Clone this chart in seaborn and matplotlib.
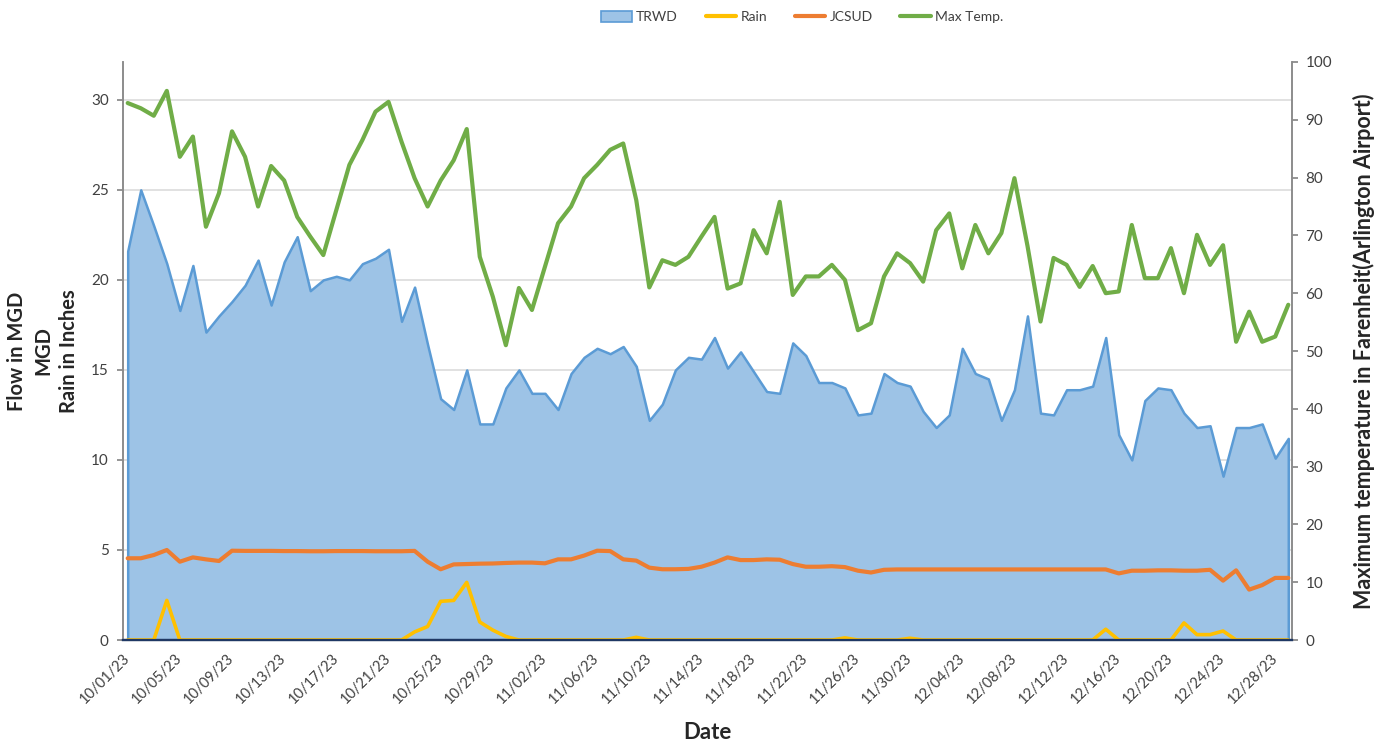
import numpy as np
import pandas as pd
import matplotlib
matplotlib.use("Agg")
import matplotlib.pyplot as plt
from matplotlib.patches import Patch
from matplotlib.lines import Line2D
import seaborn as sns

sns.set_theme(style="white")
plt.rcParams['font.family'] = ['Lato', 'DejaVu Sans']

# ---- data (10/01/23 .. 12/29/23, daily) ----
dates = pd.date_range("2023-10-01", periods=90, freq="D")

trwd = [21.6, 25.0, 23.0, 20.9, 18.3, 20.8, 17.1, 18.0, 18.8, 19.7,
        21.1, 18.6, 21.0, 22.4, 19.4, 20.0, 20.2, 20.0, 20.9, 21.2,
        21.7, 17.7, 19.6, 16.4, 13.4, 12.8, 15.0, 12.0, 12.0, 14.0,
        15.0, 13.7, 13.7, 12.8, 14.8, 15.7, 16.2, 15.9, 16.3, 15.2,
        12.2, 13.1, 15.0, 15.7, 15.6, 16.8, 15.1, 16.0, 14.9, 13.8,
        13.7, 16.5, 15.8, 14.3, 14.3, 14.0, 12.5, 12.6, 14.8, 14.3,
        14.1, 12.7, 11.8, 12.5, 16.2, 14.8, 14.5, 12.2, 13.9, 18.0,
        12.6, 12.5, 13.9, 13.9, 14.1, 16.8, 11.4, 10.0, 13.3, 14.0,
        13.9, 12.6, 11.8, 11.9, 9.1, 11.8, 11.8, 12.0, 10.1, 11.2]

jcsud = [4.54, 4.54, 4.72, 5.00, 4.35, 4.59, 4.48, 4.39, 4.96, 4.95,
         4.95, 4.95, 4.94, 4.94, 4.93, 4.93, 4.94, 4.94, 4.94, 4.93,
         4.93, 4.93, 4.95, 4.35, 3.93, 4.20, 4.22, 4.24, 4.25, 4.28,
         4.30, 4.30, 4.26, 4.48, 4.48, 4.69, 4.96, 4.94, 4.48, 4.41,
         4.02, 3.93, 3.93, 3.95, 4.07, 4.30, 4.59, 4.44, 4.44, 4.48,
         4.46, 4.22, 4.07, 4.07, 4.10, 4.05, 3.85, 3.75, 3.90, 3.92,
         3.92, 3.92, 3.92, 3.92, 3.92, 3.92, 3.92, 3.92, 3.92, 3.92,
         3.92, 3.92, 3.92, 3.92, 3.92, 3.92, 3.70, 3.85, 3.85, 3.87,
         3.87, 3.85, 3.85, 3.90, 3.30, 3.87, 2.80, 3.05, 3.45, 3.45]

rain = [0.0, 0.0, 0.0, 2.2, 0.0, 0.0, 0.0, 0.0, 0.0, 0.0,
        0.0, 0.0, 0.0, 0.0, 0.0, 0.0, 0.0, 0.0, 0.0, 0.0,
        0.0, 0.0, 0.45, 0.75, 2.15, 2.2, 3.2, 1.0, 0.55, 0.2,
        0.0, 0.0, 0.0, 0.0, 0.0, 0.0, 0.0, 0.0, 0.0, 0.15,
        0.0, 0.0, 0.0, 0.0, 0.0, 0.0, 0.0, 0.0, 0.0, 0.0,
        0.0, 0.0, 0.0, 0.0, 0.0, 0.12, 0.0, 0.0, 0.0, 0.0,
        0.1, 0.0, 0.0, 0.0, 0.0, 0.0, 0.0, 0.0, 0.0, 0.0,
        0.0, 0.0, 0.0, 0.0, 0.0, 0.6, 0.0, 0.0, 0.0, 0.0,
        0.0, 0.95, 0.3, 0.3, 0.5, 0.0, 0.0, 0.0, 0.0, 0.0]

max_temp = [92.9, 92.0, 90.7, 95.0, 83.6, 87.1, 71.5, 77.3, 88.0, 83.6,
            75.0, 82.0, 79.5, 73.2, 69.8, 66.6, 74.4, 82.2, 86.5, 91.4,
            93.1, 86.2, 79.9, 75.0, 79.5, 83.0, 88.4, 66.3, 59.4, 51.0,
            60.9, 57.1, 64.6, 72.1, 75.0, 79.9, 82.2, 84.8, 85.9, 76.1,
            61.0, 65.7, 64.9, 66.3, 69.8, 73.2, 60.8, 61.7, 70.9, 66.9,
            75.8, 59.7, 62.9, 62.9, 64.9, 62.3, 53.6, 54.8, 62.9, 66.9,
            65.2, 62.0, 70.9, 73.8, 64.3, 71.8, 66.9, 70.4, 79.9, 68.2,
            55.1, 66.1, 64.9, 61.1, 64.7, 60.0, 60.3, 71.8, 62.6, 62.6,
            67.8, 60.0, 70.1, 64.9, 68.3, 51.6, 56.8, 51.6, 52.5, 58.0]

left_ticks = [0, 5, 10, 15, 20, 25, 30]
right_ticks = [0, 10, 20, 30, 40, 50, 60, 70, 80, 90, 100]

df = pd.DataFrame({"day": np.arange(len(dates)), "TRWD": trwd, "JCSUD": jcsud,
                   "Rain": rain, "Max Temp.": max_temp})

C_FILL, C_EDGE = "#9DC3E6", "#5B9BD5"
C_RAIN, C_JCSUD, C_TEMP = "#FFC000", "#ED7D31", "#70AD47"
TXT = "#404040"

fig = plt.figure(figsize=(13.88, 7.45), dpi=100)
ax = fig.add_axes([0.0884, 0.1409, 0.8422, 0.7759])
ax2 = ax.twinx()

# TRWD area + edge
ax.fill_between(df["day"], 0, df["TRWD"], facecolor=C_FILL, edgecolor=C_EDGE,
                linewidth=1.8, zorder=1)
sns.lineplot(data=df, x="day", y="JCSUD", ax=ax, color=C_JCSUD, linewidth=3.0,
             zorder=3)
sns.lineplot(data=df, x="day", y="Rain", ax=ax, color=C_RAIN, linewidth=2.6,
             zorder=4)
sns.lineplot(data=df, x="day", y="Max Temp.", ax=ax2, color=C_TEMP, linewidth=3.0)
for l in ax.lines + ax2.lines:
    l.set_solid_joinstyle("round")
    l.set_solid_capstyle("round")

ax.set_xlim(-0.383, 89.26)
ax.set_ylim(0, 32.1)
ax2.set_ylim(0, 100)

ax.set_axisbelow(True)
ax.yaxis.grid(True, color="#D9D9D9", linewidth=1.1)
ax.xaxis.grid(False)
ax.set_yticks(left_ticks)
ax2.set_yticks(right_ticks)

tick_pos = df["day"].values[::4] - 0.383
ax.set_xticks(tick_pos)
ax.set_xticklabels(dates[::4].strftime("%m/%d/%y"), rotation=45, ha="right",
                   rotation_mode="anchor", fontsize=10.5, color=TXT)
ax.tick_params(axis="x", direction="out", length=5, color="#404040", pad=3)
ax.tick_params(axis="y", direction="out", length=4, color="#888888",
               labelsize=11, labelcolor=TXT, pad=6)
ax2.tick_params(axis="y", direction="out", length=4, color="#888888",
                labelsize=11, labelcolor=TXT, pad=6)

for a in (ax, ax2):
    a.spines["top"].set_visible(False)
    a.spines["left"].set_color("#8C8C8C")
    a.spines["right"].set_color("#8C8C8C")
    a.spines["bottom"].set_color("#1F3864")
    a.spines["left"].set_linewidth(1.2)
    a.spines["right"].set_linewidth(1.2)
    a.spines["bottom"].set_linewidth(1.6)
ax.spines["bottom"].set_zorder(2.5)

ax.set_xlabel("Date", fontsize=16, fontweight="bold", va="top")
ax.xaxis.set_label_coords(0.5, -0.142)
ax.set_ylabel("Flow in MGD\nMGD\nRain in Inches", fontsize=14.5, fontweight="bold",
              linespacing=1.4)
ax.yaxis.set_label_coords(-0.037, 0.5)
ax2.set_ylabel("Maximum temperature in Farenheit(Arlington Airport)", fontsize=15.5,
               fontweight="bold", rotation=90)
ax2.yaxis.set_label_coords(1.052, 0.5)

handles = [Patch(facecolor=C_FILL, edgecolor=C_EDGE, linewidth=1.2),
           Line2D([], [], color=C_RAIN, linewidth=3),
           Line2D([], [], color=C_JCSUD, linewidth=3),
           Line2D([], [], color=C_TEMP, linewidth=3)]
fig.legend(handles, ["TRWD", "Rain", "JCSUD", "Max Temp."], loc="center",
           bbox_to_anchor=(0.578, 0.977), ncol=4, frameon=False, fontsize=10,
           handlelength=2.2, handleheight=0.9, handletextpad=0.3,
           columnspacing=2.0, labelcolor=TXT)

fig.savefig("out.png", dpi=100)
